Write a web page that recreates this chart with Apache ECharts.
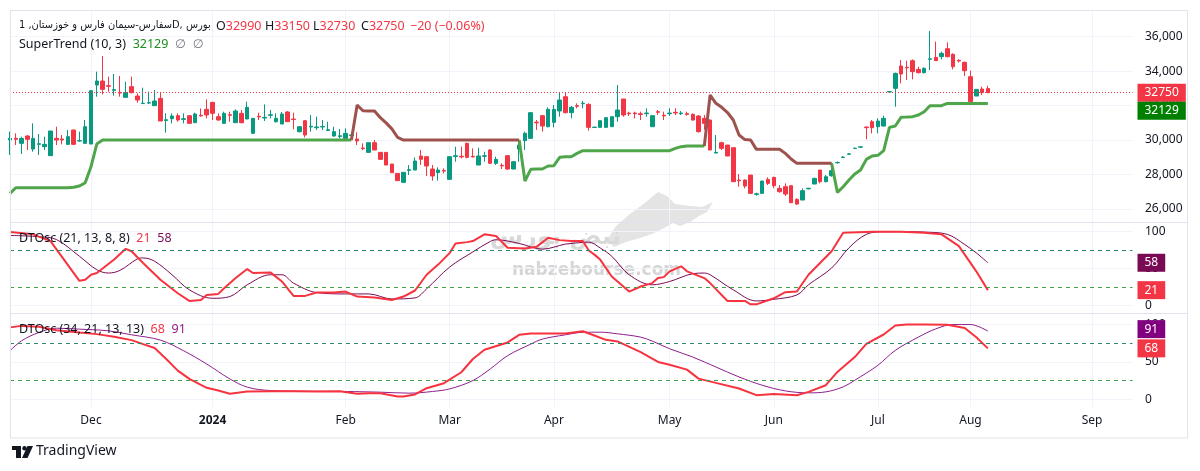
<!DOCTYPE html>
<html><head><meta charset="utf-8">
<script src="https://cdn.jsdelivr.net/npm/echarts@6/dist/echarts.min.js"></script>
<style>html,body{margin:0;padding:0;background:#fff;}#c{width:1200px;height:471px;}</style>
</head><body><div id="c"></div>
<script>
// ---------- DATA ----------
const monthLabels = ['Dec','2024','Feb','Mar','Apr','May','Jun','Jul','Aug','Sep'];
const monthBars   = [14, 35, 58, 76, 94, 114, 132, 150, 166, 187];
const totalBars = 195;               // includes empty future bars on the time scale
const priceTicks = [26000, 28000, 30000, 32000, 34000, 36000];
const oscTicks = [0, 50, 100];
const oscLevels = [75, 25];

// candles: [open, close, low, high]
const ohlc = [
[30004,30100,29133,30487],[30100,30042,29713,30391],[29810,30100,29191,30197],[30236,30042,29423,30294],[29481,30100,29326,30971],
[29752,29790,29133,30352],[29617,29752,29423,30197],[29094,30526,29094,30526],[30100,30004,29713,30778],[30062,30004,29752,30294],
[29752,30197,29713,30584],[30584,29752,29713,30600],[29946,29965,29907,30487],[29810,30778,29810,31165],[29771,32867,29771,32867],
[33196,33428,32519,33970],[33428,32945,32654,34880],[33158,33120,32809,33680],[32890,32930,32577,33835],[32770,32730,32519,33719],
[32480,32751,32480,33390],[33100,32751,32712,33680],[32558,32325,32171,32712],[32120,32140,32093,33041],[32150,32171,32093,32809],
[31997,32267,31997,32906],[32422,31106,31106,32751],[31140,31180,30429,31552],[31242,31397,30971,31552],[31416,31165,31068,31552],
[31200,31240,30971,31552],[31416,30971,30971,31450],[31010,31513,31010,31590],[31440,31400,31358,31842],[31784,31455,31261,32364],
[32190,31552,31165,32190],[31358,31165,31126,31552],[30971,31552,30932,31648],[31470,31440,31068,31648],[31010,31687,31010,31784],
[31552,31010,30971,31745],[31223,31900,31223,32229],[30391,31261,30352,31261],[31380,31340,31165,31590],[31280,31320,31106,32074],
[31440,31470,31261,31745],[31068,31261,31010,31552],[30932,31513,30932,31629],[31629,31068,31068,31687],[31223,31190,30623,31590],
[30487,30778,30449,30800],[31126,30294,30158,31165],[30760,30800,30487,31455],[30720,30760,30584,31358],[30760,30790,30584,31165],
[30560,30600,30526,31068],[30236,30487,30197,30778],[30210,30250,30100,30642],[30100,30391,30004,30681],[30270,30300,30150,30400],
[30060,29946,29713,30449],[29540,29500,29423,29810],[29287,29849,29287,29849],[29849,29423,29423,30004],[29287,28881,28881,29287],
[29287,28552,28552,29287],[28610,28107,28107,28610],[28069,27643,27643,28069],[27546,28127,27546,28127],[28240,28280,27972,28552],
[28262,28785,28262,28997],[29075,28881,28552,29423],[29036,28494,27914,29036],[28320,27914,27643,28552],[28107,28262,27643,28417],
[28240,28200,28069,28359],[27720,29036,27720,29036],[29050,29090,28746,29617],[29060,29020,28939,29617],[29810,28997,28939,29849],
[29060,29020,28997,29520],[28552,29075,28552,29558],[29060,29090,28746,29326],[29423,28649,28649,29481],[28649,28881,28552,29036],
[28530,28500,28320,28649],[29094,28320,28262,29133],[28320,28746,28301,28785],[29481,29713,28746,30004],[29965,30391,29423,30487],
[30100,31590,30100,31590],[31040,31000,30584,31165],[31416,30816,30487,31455],[30778,31784,30739,31900],[31029,31784,30739,32035],
[31687,32325,31358,32751],[32519,31590,31552,32751],[31590,31900,31261,31977],[31997,31960,31842,32132],[32110,32140,31842,32267],
[32074,30739,30545,32132],[30730,30750,30720,30778],[30739,31126,30739,31126],[30739,31300,30739,31300],[30778,31358,30778,31358],
[31358,31745,31068,33196],[32384,31455,31358,32384],[31570,31530,31397,31648],[31570,31530,31261,31648],[31530,31490,31165,31648],
[31530,31570,31358,31842],[30778,31416,30778,31416],[31650,31610,31455,31745],[31440,31400,31165,31648],[31530,31570,31397,31842],
[31610,31570,31455,31842],[31530,31570,31455,31687],[31530,31490,31416,31648],[31494,31165,31126,31552],[31397,30487,30429,31455],
[31261,30971,30600,31455],[31164,29423,29423,31200],[29250,29287,29229,30293],[29848,29519,29423,29906],[29713,29074,29074,29713],
[29558,27584,27584,29558],[27680,27640,27294,28029],[27680,27333,27197,27719],[27971,26907,26907,27971],[26850,26880,26771,26946],
[26907,27623,26907,27623],[27719,27487,27391,27836],[27836,27352,27197,27874],[27197,27004,26946,27391],[27294,26868,26752,27487],
[27352,26365,26365,27352],[26559,26288,26230,26617],[26520,27062,26520,27197],[27170,27200,27140,27230],[27449,27777,27449,27816],
[28262,27584,27487,28262],[27584,27874,27546,27971],[27933,28223,27874,28648],[28680,28700,28640,28760],[28990,29010,28960,29074],
[29180,29200,29150,29230],[29510,29530,29480,29560],[29590,29610,29570,29630],[30760,30720,30042,30777],[31067,30719,30390,31164],
[30777,31106,30390,31261],[30816,31261,30777,31416],[32790,32810,32770,32830],[33002,33873,31938,33912],[34299,33834,33293,34647],
[34220,34190,33486,34608],[34608,33970,33525,34686],[34105,33912,33873,34260],[33912,34163,33873,34221],[34690,34720,34067,36330],
[34802,34608,34608,35711],[34841,35034,34686,35131],[35305,34841,34802,35673],[34976,34260,34105,35034],[34630,34590,34492,34686],
[34512,34028,33718,34550],[33680,32228,32228,34028],[32557,32944,32557,32944],[32964,32751,32615,33099],[32990,32750,32730,33150]
];

// SuperTrend (10, 3) value per bar
const superTrend = [
26907,27236,27236,27236,27236,27236,27236,27236,27236,27236,
27236,27260,27333,27527,28455,29771,30004,30004,30004,30004,
30004,30004,30004,30004,30004,30004,30004,30004,30004,30004,
30004,30004,30004,30004,30004,30004,30004,30004,30004,30004,
30004,30004,30004,30004,30004,30004,30004,30004,30004,30004,
30004,30004,30004,30004,30004,30004,30004,30004,30004,30004,
32035,31700,31687,31687,31300,31000,30650,30150,30004,30004,
30004,30004,30004,30004,30004,30004,30004,30004,30004,30004,
30004,30004,30004,30004,30004,30004,30004,30004,30004,27624,
28301,28320,28320,28494,28514,28997,29036,29036,29230,29384,
29384,29384,29384,29384,29384,29384,29384,29384,29384,29384,
29384,29384,29384,29384,29384,29520,29617,29655,29655,29655,
29655,32616,32132,31900,31600,31165,30294,30030,30004,29462,
29462,29462,29462,29462,29229,28900,28648,28648,28648,28648,
28648,28648,28648,26965,27294,27680,28029,28262,28880,29074,
29113,29384,30738,30816,31319,31338,31358,31454,31648,31996,
31996,31996,32129,32129,32129,32129,32129,32129,32129,32129
];
// trend segments: [firstBar, lastBar, direction]
const stSegments = [[0,59,1],[60,88,-1],[89,120,1],[121,142,-1],[143,169,1]];

// DTOsc (21,13,8,8): [bar, value]
const dto1K = [[0,99.5],[4,96.4],[7,87.3],[12,33.6],[13,35],[14,41.8],[15,44.1],[18,62.3],[20,76.8],[21,73.6],[23,57.7],[26,35],[29,16.8],[31,6.4],[33,7.7],[34,14.5],[36,15.9],[37,23.6],[39,37.3],[41,49.5],[42,44.1],[45,45],[47,32.7],[49,13.2],[51,13.2],[53,17.7],[56,17.7],[58,19.1],[60,12.3],[63,10.9],[66,7.7],[68,12.3],[70,20.5],[72,41.8],[74,55.5],[76,71.4],[77,84.1],[79,85.9],[80,87.3],[82,96.4],[84,94.1],[86,78.2],[89,77.3],[91,79.5],[93,91.8],[95,88.6],[97,87.3],[99,87.3],[100,75],[101,69],[102,62.3],[104,39.5],[107,19.1],[109,25.9],[111,30.5],[112,37.3],[113,38.6],[114,46.4],[116,53.2],[117,46.4],[120,37.3],[121,30.5],[124,6.4],[127,6.4],[128,1.8],[129,1.8],[132,10],[134,18.2],[136,19.1],[138,41.8],[142,73.6],[144,98.6],[149,100],[151,100],[154,100],[158,98.6],[161,96.4],[164,80.5],[167,46.4],[169,21]];
const dto1D = [[0,95],[5,93.2],[8,89.5],[12,66.8],[15,48.6],[17,44.1],[19,47.7],[22,63.2],[23,64.5],[25,60],[28,41.8],[31,21.4],[35,10],[38,12.3],[41,28.2],[45,41.8],[47,41.8],[49,30.5],[53,17.7],[58,15.9],[62,15.9],[66,9.1],[70,10.5],[72,22.7],[76,52.3],[80,72.7],[83,86.8],[84,89.1],[88,84.1],[92,76.4],[96,83.2],[99,85.5],[100,86],[102,78],[104,66.8],[107,41.8],[111,28.2],[114,32.7],[118,43.2],[120,44.1],[121,41.8],[125,21.4],[129,6.4],[132,8.6],[136,14.5],[138,28.2],[142,50.9],[145,78.2],[148,96.4],[151,100],[155,100],[158,99.5],[162,96.4],[165,82.7],[167,71.4],[169,58]];
// DTOsc (34,21,13,13)
const dto2K = [[0,96],[2,98],[5,96.7],[8,92.3],[12,89.2],[15,87],[18,83.4],[21,79],[23,73.7],[25,68.4],[27,53.8],[29,38.3],[31,27.2],[34,15.3],[36,11.7],[38,7.3],[41,10.4],[45,10.8],[49,10.8],[53,10.4],[57,10.8],[60,7.3],[62,8.2],[64,8.2],[67,3.8],[68,3.8],[70,6.4],[72,14.8],[75,21.5],[78,36.1],[80,53.8],[82,66.1],[86,75.9],[88,86.1],[90,87.8],[92,87.8],[96,87.8],[99,90.9],[101,85.2],[103,79.4],[105,77.2],[109,63],[112,49.8],[114,46.2],[117,39.6],[119,27.6],[122,21.9],[126,14.4],[129,5.5],[132,6.9],[136,5.5],[138,9.9],[141,18.8],[143,36.5],[146,56.4],[148,74.1],[151,86.5],[153,98.5],[155,100],[158,100],[162,99.5],[165,95.1],[167,82.7],[169,68]];
const dto2D = [[0,64.8],[2,78.1],[5,89.2],[8,94.9],[12,93.6],[17,91.4],[21,86.1],[26,79],[30,64.8],[34,47.1],[38,27.2],[41,16.2],[45,11.7],[51,10.8],[58,10.4],[64,9.5],[69,8.2],[73,10.4],[76,13.9],[80,25],[83,40.5],[86,58.2],[90,73.7],[92,80.3],[96,86.1],[99,89.4],[102,89.6],[105,87.4],[109,83],[111,77.7],[114,67.5],[118,56.4],[122,43.1],[126,29.8],[130,18.8],[134,11.2],[138,8.6],[141,9.9],[144,16.6],[146,25.4],[150,45.4],[153,65.3],[157,83],[160,94],[163,99.8],[166,99.8],[169,91]];

const lastClose = 32750, lastST = 32129;
const dto1Last = [21, 58], dto2Last = [68, 91];
const legendOHLC = [['O', '32990'], ['H', '33150'], ['L', '32730'], ['C', '32750'], ['', '−20 (−0.06%)']];

// ---------- STYLE ----------
const FONT = "'Noto Sans', 'DejaVu Sans', sans-serif";
const TXT = '#131722', GRIDC = '#f0f3fa', BORDER = '#e0e3eb';
const UP = '#089981', DOWN = '#F23645';
const ST_UP = '#4fa64a', ST_DN = '#9d524d';
const K_RED = '#f7333f', D1 = '#7b0a55', D2 = '#8e1f8e';
const LV_HI = '#2e8a6a', LV_LO = '#43a047';
const CLEAR = 'rgba(0,0,0,0)';

const cats = Array.from({length: totalBars}, (_, i) => String(i));
const labelOf = {};
monthBars.forEach((b, k) => { labelOf[b] = monthLabels[k]; });
const isMonth = (i) => labelOf[i] !== undefined;

function stLine(dir) {
  const out = superTrend.map(() => null);
  stSegments.forEach(([a, b, d]) => {
    if (d !== dir) return;
    for (let i = (a > 0 ? a - 1 : a); i <= b; i++) out[i] = superTrend[i];
  });
  return out;
}

const L = 10, R = 67.5;
const grids = [
  {left: L, right: R, top: 10, height: 212},
  {left: L, right: R, top: 222, height: 91},
  {left: L, right: R, top: 313, height: 94}
];

function boxLabel(text, bg, off) {
  return {show: true, position: 'end', distance: 5, formatter: text, color: '#fff',
    backgroundColor: bg, padding: [3, 7, 2, 7], fontSize: 12, fontFamily: FONT,
    lineHeight: 13, offset: [0, off || 0]};
}
const hiddenLine = {color: CLEAR, width: 1};

function legendText(left, top, parts) {
  // parts: [[text, color], ...] laid out in one rich string
  const rich = {s: {fontSize: 12}};
  let str = '';
  parts.forEach(([t, c], k) => {
    if (k > 0) str += '{s|  }';
    rich['p' + k] = {fill: c, fontSize: 12.5, fontFamily: FONT};
    str += '{p' + k + '|' + t + '}';
  });
  return {type: 'text', left, top, z: 20, silent: true,
    style: {text: str, rich, font: '12.5px ' + FONT, fill: TXT}};
}

const ohlcX = [216, 265, 313, 361, 410];
const legendTop = ohlcX.map((x, k) => ({
  type: 'text', left: x, top: 20, z: 20, silent: true,
  style: {text: '{a|' + legendOHLC[k][0] + '}{b|' + legendOHLC[k][1] + '}', font: '12.5px ' + FONT,
    rich: {a: {fill: TXT, fontSize: 12.5, fontFamily: FONT}, b: {fill: DOWN, fontSize: 12.5, fontFamily: FONT}}}
}));

const option = {
  animation: false,
  backgroundColor: '#ffffff',
  textStyle: {fontFamily: FONT},
  grid: grids,
  xAxis: [0, 1, 2].map(k => ({
    type: 'category', gridIndex: k, data: cats, boundaryGap: false,
    axisLine: {show: false}, axisTick: {show: false},
    axisLabel: {show: k === 2, interval: (i) => isMonth(i), margin: 8,
      color: TXT, fontSize: 12, fontFamily: FONT,
      formatter: (v) => { const s = labelOf[+v]; return /^\d{4}$/.test(s) ? '{y|' + s + '}' : s; },
      rich: {y: {fontWeight: 'bold', fontSize: 12, color: TXT}}},
    splitLine: {show: true, interval: (i) => isMonth(i), lineStyle: {color: GRIDC, width: 1}}
  })),
  yAxis: [
    {type: 'value', gridIndex: 0, position: 'right', min: 25245, max: 37550,
      axisLine: {show: false}, axisTick: {show: false, customValues: priceTicks},
      axisLabel: {customValues: priceTicks, color: TXT, fontSize: 12, margin: 12.5},
      splitLine: {show: true, lineStyle: {color: GRIDC}}},
    {type: 'value', gridIndex: 1, position: 'right', min: -9.9, max: 113.1,
      axisLine: {show: false}, axisTick: {show: false, customValues: oscTicks},
      axisLabel: {customValues: oscTicks, color: TXT, fontSize: 12, margin: 12.5},
      splitLine: {show: true, lineStyle: {color: GRIDC}}},
    {type: 'value', gridIndex: 2, position: 'right', min: -10.3, max: 115.2,
      axisLine: {show: false}, axisTick: {show: false, customValues: oscTicks},
      axisLabel: {customValues: oscTicks, color: TXT, fontSize: 12, margin: 12.5},
      splitLine: {show: true, lineStyle: {color: GRIDC}}}
  ],
  series: [
    {type: 'candlestick', xAxisIndex: 0, yAxisIndex: 0, data: ohlc, barWidth: 4, z: 2,
      itemStyle: {color: UP, color0: DOWN, borderColor: UP, borderColor0: DOWN, borderWidth: 1},
      markLine: {symbol: ['none', 'none'], silent: true, animation: false,
        data: [
          {yAxis: lastClose, lineStyle: {color: DOWN, type: [1, 2], width: 1}, label: boxLabel(String(lastClose), '#F23645')},
          {yAxis: lastST, lineStyle: hiddenLine, label: boxLabel(String(lastST), '#008000', 7.3)}
        ]}},
    {type: 'line', xAxisIndex: 0, yAxisIndex: 0, data: stLine(1), showSymbol: false, connectNulls: false,
      lineStyle: {color: ST_UP, width: 3}, z: 3},
    {type: 'line', xAxisIndex: 0, yAxisIndex: 0, data: stLine(-1), showSymbol: false, connectNulls: false,
      lineStyle: {color: ST_DN, width: 3}, z: 3},

    {type: 'line', xAxisIndex: 1, yAxisIndex: 1, data: dto1D, showSymbol: false, smooth: 0.35,
      lineStyle: {color: D1, width: 1}, z: 3,
      markLine: {symbol: ['none', 'none'], silent: true, animation: false,
        data: [{yAxis: dto1Last[1], lineStyle: hiddenLine, label: boxLabel(String(dto1Last[1]), D1)}]}},
    {type: 'line', xAxisIndex: 1, yAxisIndex: 1, data: dto1K, showSymbol: false,
      lineStyle: {color: K_RED, width: 2}, z: 4,
      markLine: {symbol: ['none', 'none'], silent: true, animation: false,
        data: [
          {yAxis: oscLevels[0], lineStyle: {color: LV_HI, type: [4, 4], width: 1}, label: {show: false}},
          {yAxis: oscLevels[1], lineStyle: {color: LV_LO, type: [4, 4], width: 1}, label: {show: false}},
          {yAxis: dto1Last[0], lineStyle: hiddenLine, label: boxLabel(String(dto1Last[0]), '#F23645')}
        ]}},

    {type: 'line', xAxisIndex: 2, yAxisIndex: 2, data: dto2D, showSymbol: false, smooth: 0.35,
      lineStyle: {color: D2, width: 1}, z: 3,
      markLine: {symbol: ['none', 'none'], silent: true, animation: false,
        data: [{yAxis: dto2Last[1], lineStyle: hiddenLine, label: boxLabel(String(dto2Last[1]), '#800080', -2)}]}},
    {type: 'line', xAxisIndex: 2, yAxisIndex: 2, data: dto2K, showSymbol: false,
      lineStyle: {color: K_RED, width: 2}, z: 4,
      markLine: {symbol: ['none', 'none'], silent: true, animation: false,
        data: [
          {yAxis: oscLevels[0], lineStyle: {color: LV_HI, type: [4, 4], width: 1}, label: {show: false}},
          {yAxis: oscLevels[1], lineStyle: {color: LV_LO, type: [4, 4], width: 1}, label: {show: false}},
          {yAxis: dto2Last[0], lineStyle: hiddenLine, label: boxLabel(String(dto2Last[0]), '#F23645')}
        ]}}
  ],
  graphic: [
    // watermark
    {type: 'polygon', z: 0, silent: true, shape: {points: [[607,240],[616,226],[630,214],[646,202],[658,192],[667,196],[675,204],[690,206],[702,207],[713,202],[707,212],[699,216],[690,222],[680,226],[673,223],[664,228],[652,234],[640,238],[626,242],[614,247]]},
      style: {fill: '#e4e4e4'}},
    {type: 'text', left: 490, top: 226, z: 0, silent: true,
      style: {text: 'نبض بورس', fill: '#d9d9d9', font: "bold 24px 'DejaVu Sans', sans-serif"}},
    {type: 'text', left: 512, top: 262, z: 0, silent: true,
      style: {text: 'nabzebourse.com', fill: '#d6d6d6', font: "bold 17px 'DejaVu Sans', sans-serif"}},
    // frame
    {type: 'rect', z: 10, silent: true, shape: {x: 10.5, y: 10.5, width: 1177, height: 427.5},
      style: {fill: 'none', stroke: BORDER, lineWidth: 1}},
    {type: 'line', z: 10, silent: true, shape: {x1: 10, y1: 222.5, x2: 1188, y2: 222.5}, style: {stroke: BORDER, lineWidth: 1}},
    {type: 'line', z: 10, silent: true, shape: {x1: 10, y1: 313.5, x2: 1188, y2: 313.5}, style: {stroke: BORDER, lineWidth: 1}},
    // legends
    {type: 'text', left: 19, top: 20, z: 20, silent: true,
      style: {text: 'سفارس-سیمان فارس و خوزستان, 1D, بورس', fill: TXT, font: "11px 'DejaVu Sans Condensed', 'DejaVu Sans', sans-serif"}},
    ...legendTop,
    legendText(19, 38, [['SuperTrend (10, 3)', TXT], ['32129', '#1e8c1e'], ['∅', '#787b86'], ['∅', '#787b86']]),
    legendText(19, 232, [['DTOsc (21, 13, 8, 8)', TXT], ['21', DOWN], ['58', D1]]),
    legendText(19, 323, [['DTOsc (34, 21, 13, 13)', TXT], ['68', DOWN], ['91', D2]]),
    // TradingView logo
    {type: 'group', left: 12, top: 446, silent: true, children: [
      {type: 'rect', shape: {x: 0, y: 0, width: 9, height: 4}, style: {fill: TXT}},
      {type: 'rect', shape: {x: 4, y: 0, width: 5, height: 12}, style: {fill: TXT}},
      {type: 'circle', shape: {cx: 12.5, cy: 2.2, r: 2.2}, style: {fill: TXT}},
      {type: 'polygon', shape: {points: [[15.5, 0], [21, 0], [15.5, 12], [10, 12]]}, style: {fill: TXT}}
    ]},
    {type: 'text', left: 36, top: 444, silent: true,
      style: {text: 'TradingView', fill: TXT, font: '14px ' + FONT}}
  ]
};

const chart = echarts.init(document.getElementById('c'), null, {renderer: 'canvas', width: 1200, height: 471});
chart.setOption(option);
</script>
</body></html>
